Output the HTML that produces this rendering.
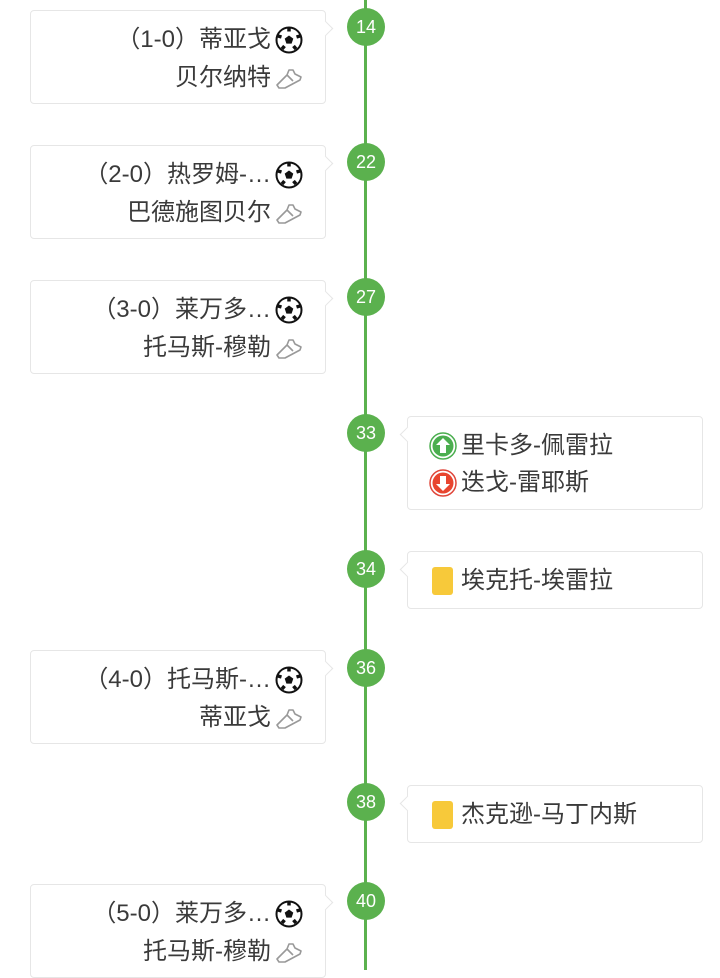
<!DOCTYPE html>
<html><head><meta charset="utf-8"><style>
body{margin:0;width:720px;height:970px;overflow:hidden;background:#fff;position:relative;font-family:"Liberation Sans","Noto Sans CJK SC",sans-serif;color:#3a3a3a}
.line{position:absolute;left:364px;top:0;width:3px;height:970px;background:#5bb14e}
.c{position:absolute;left:347px;width:38px;height:38px;border-radius:50%;background:#5bb14e;color:#fff;font-size:18px;line-height:38px;text-align:center}
.box{position:absolute;background:#fff;border:1px solid #e6e6e6;border-radius:4px;box-sizing:border-box}
.L{left:30px;width:296px;height:94px}
.R{left:407px;width:296px}
.L::after,.R::after{content:"";position:absolute;top:12px;width:10px;height:10px;background:#fff;border:1px solid #e6e6e6;transform:rotate(45deg)}
.L::after{right:-6px;border-left:none;border-bottom:none}
.R::after{left:-6px;border-right:none;border-top:none}
.t{position:absolute;right:22px;font-size:24px;white-space:nowrap;height:30px;line-height:30px;display:flex;align-items:center}
.t svg{margin-left:4px}
.r{position:absolute;left:20px;font-size:24px;white-space:nowrap;height:30px;line-height:30px;display:flex;align-items:center}
.card{display:inline-block;width:21px;height:28px;background:#f7c93a;border-radius:3px;margin-right:8px}
</style></head><body>
<svg width="0" height="0" style="position:absolute"><defs>
<symbol id="ball" viewBox="0 0 28 28"><circle cx="14" cy="14" r="12.5" fill="#fff" stroke="#111" stroke-width="2"/><polygon points="14,9.5 18.3,12.6 16.6,17.6 11.4,17.6 9.7,12.6" fill="#111"/><path d="M14,2 L14,5.5 M3,10 L6.5,11 M25,10 L21.5,11 M7,23 L9.5,20 M21,23 L18.5,20" stroke="#111" stroke-width="3.5"/></symbol>
<symbol id="shoe" viewBox="0 0 28 28"><path d="M4,24 L2,21 L12,11 L14,6 L18,6 L20,10 L26,13 L25,16 L10,24 Z M12,11 L18,17" fill="none" stroke="#999" stroke-width="1.6" stroke-linejoin="round"/></symbol>
</defs></svg>
<div class="line"></div>

<div class="box L" style="top:10px"><div class="t" style="top:14px">（1-0）蒂亚戈<svg width="28" height="28"><use href="#ball"/></svg></div><div class="t" style="top:52px">贝尔纳特<svg width="28" height="28"><use href="#shoe"/></svg></div></div>
<div class="c" style="top:8px">14</div>

<div class="box L" style="top:145px"><div class="t" style="top:14px">（2-0）热罗姆-…<svg width="28" height="28"><use href="#ball"/></svg></div><div class="t" style="top:52px">巴德施图贝尔<svg width="28" height="28"><use href="#shoe"/></svg></div></div>
<div class="c" style="top:143px">22</div>

<div class="box L" style="top:280px"><div class="t" style="top:14px">（3-0）莱万多…<svg width="28" height="28"><use href="#ball"/></svg></div><div class="t" style="top:52px">托马斯-穆勒<svg width="28" height="28"><use href="#shoe"/></svg></div></div>
<div class="c" style="top:278px">27</div>

<div class="box R" style="top:416px;height:94px">
<div class="r" style="top:14px"><svg width="30" height="30" viewBox="0 0 30 30" style="margin-right:3px"><circle cx="15" cy="15" r="13" fill="#fff" stroke="#4bae4f" stroke-width="1.5"/><circle cx="15" cy="15" r="10.5" fill="#4bae4f"/><path d="M15,7 L22,14 L18,14 L18,22 L12,22 L12,14 L8,14 Z" fill="#fff"/></svg>里卡多-佩雷拉</div>
<div class="r" style="top:51px"><svg width="30" height="30" viewBox="0 0 30 30" style="margin-right:3px"><circle cx="15" cy="15" r="13" fill="#fff" stroke="#e0463a" stroke-width="1.5"/><circle cx="15" cy="15" r="10.5" fill="#e8452f"/><path d="M15,23 L22,16 L18,16 L18,8 L12,8 L12,16 L8,16 Z" fill="#fff"/></svg>迭戈-雷耶斯</div></div>
<div class="c" style="top:414px">33</div>

<div class="box R" style="top:551px;height:58px"><div class="r" style="top:14px;left:24px"><span class="card"></span>埃克托-埃雷拉</div></div>
<div class="c" style="top:550px">34</div>

<div class="box L" style="top:650px"><div class="t" style="top:14px">（4-0）托马斯-…<svg width="28" height="28"><use href="#ball"/></svg></div><div class="t" style="top:52px">蒂亚戈<svg width="28" height="28"><use href="#shoe"/></svg></div></div>
<div class="c" style="top:649px">36</div>

<div class="box R" style="top:785px;height:58px"><div class="r" style="top:14px;left:24px"><span class="card"></span>杰克逊-马丁内斯</div></div>
<div class="c" style="top:783px">38</div>

<div class="box L" style="top:884px"><div class="t" style="top:14px">（5-0）莱万多…<svg width="28" height="28"><use href="#ball"/></svg></div><div class="t" style="top:52px">托马斯-穆勒<svg width="28" height="28"><use href="#shoe"/></svg></div></div>
<div class="c" style="top:882px">40</div>
</body></html>
